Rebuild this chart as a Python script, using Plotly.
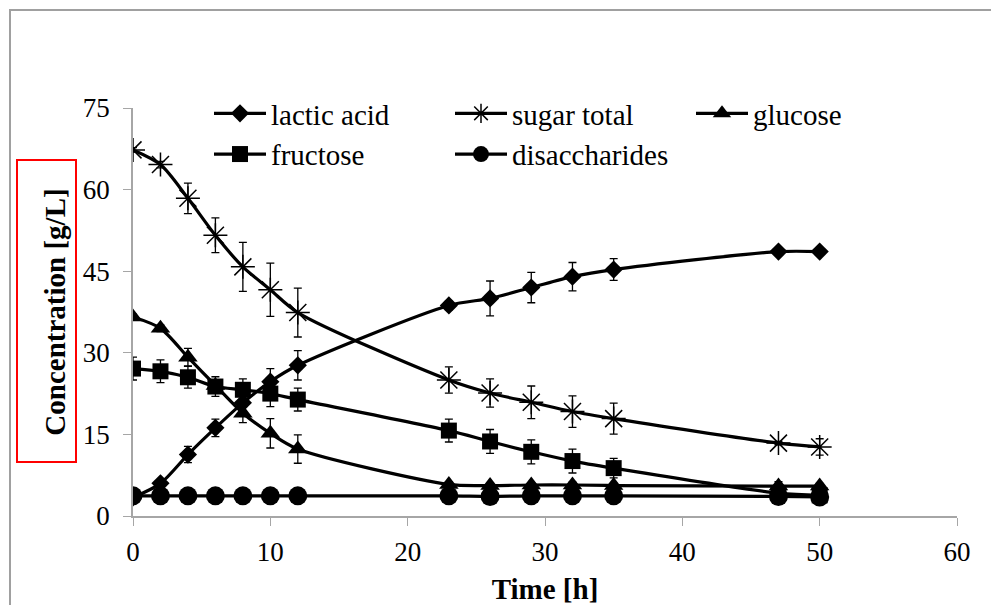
import plotly.graph_objects as go

time_h = [0, 2, 4, 6, 8, 10, 12, 23, 26, 29, 32, 35, 47, 50]

lactic_acid = [3.4, 6.0, 11.3, 16.2, 20.8, 24.7, 27.7, 38.7, 40.0, 42.0, 44.0, 45.3, 48.6, 48.6]
lactic_acid_err = [0.3, 0.5, 1.5, 1.6, 1.5, 2.4, 2.7, 0.8, 3.2, 2.8, 2.6, 2.0, 0.4, 0.5]

sugar_total = [67.3, 64.6, 58.4, 51.6, 45.8, 41.6, 37.4, 25.0, 22.6, 20.9, 19.2, 17.9, 13.4, 12.7]
sugar_total_err = [0.4, 0.6, 2.8, 3.2, 4.5, 4.9, 4.5, 2.4, 2.6, 3.0, 2.9, 2.85, 0.3, 1.5]

glucose = [36.6, 34.5, 29.2, 24.0, 18.9, 15.2, 12.3, 5.8, 5.6, 5.7, 5.7, 5.6, 5.5, 5.5]
glucose_err = [0.5, 0.6, 1.6, 1.0, 1.75, 2.7, 2.6, 0.5, 0.4, 0.4, 0.5, 0.4, 0.8, 0.5]

fructose = [27.1, 26.6, 25.5, 23.8, 23.2, 22.5, 21.4, 15.7, 13.7, 11.8, 10.1, 8.8, 4.2, 3.8]
fructose_err = [2.1, 2.1, 2.0, 1.8, 2.0, 2.4, 2.1, 2.1, 2.2, 2.2, 2.2, 1.8, 0.5, 1.6]

disaccharides = [3.7, 3.7, 3.7, 3.7, 3.7, 3.7, 3.7, 3.7, 3.6, 3.7, 3.7, 3.7, 3.6, 3.5]
disaccharides_err = [0.2, 0.2, 0.2, 0.2, 0.2, 0.2, 0.2, 0.2, 0.2, 0.2, 0.2, 0.2, 0.2, 0.3]

x_ticks = [0, 10, 20, 30, 40, 50, 60]
y_ticks = [0, 15, 30, 45, 60, 75]

FONT = "Liberation Serif"

series = [
    ("lactic acid", lactic_acid, lactic_acid_err, dict(symbol="diamond", size=14, color="black")),
    ("sugar total", sugar_total, sugar_total_err, dict(symbol="asterisk-open", size=20, color="black",
                                                       line=dict(color="black", width=1.5))),
    ("glucose", glucose, glucose_err, dict(symbol="triangle-up", size=17, color="black")),
    ("fructose", fructose, fructose_err, dict(symbol="square", size=16, color="black")),
    ("disaccharides", disaccharides, disaccharides_err, dict(symbol="circle", size=19, color="black")),
]

fig = go.Figure()
for name, vals, errs, mk in series:
    fig.add_trace(go.Scatter(
        x=time_h, y=vals, name=name, mode="lines+markers",
        line=dict(color="black", width=3.2, shape="spline", smoothing=0.8),
        marker=mk,
        error_y=dict(type="data", array=errs, visible=True, color="black", thickness=1.3, width=4),
    ))

W, H = 991, 605
L, T = 133, 108
pw, ph = 824, 408
R, B = W - L - pw, H - T - ph

def px2x(px):
    return (px - L) / pw

def py2y(py):
    return (T + ph - py) / ph

fig.update_layout(
    width=W, height=H,
    margin=dict(l=L, r=R, t=T, b=B, autoexpand=False),
    paper_bgcolor="white", plot_bgcolor="white",
    font=dict(family=FONT, size=27, color="black"),
    showlegend=True,
    legend=dict(
        orientation="h", x=px2x(209), y=py2y(88), xanchor="left", yanchor="top",
        entrywidth=174, entrywidthmode="pixels",
        font=dict(family=FONT, size=29, color="black"),
        bgcolor="rgba(0,0,0,0)", tracegroupgap=0, itemwidth=52,
    ),
    xaxis=dict(
        range=[0, 60], tickvals=x_ticks, ticks="outside", ticklen=8, tickcolor="#a6a6a6",
        showline=True, linecolor="#a6a6a6", linewidth=1.5, showgrid=False, zeroline=False,
        tickfont=dict(family=FONT, size=27), ticklabelstandoff=3, automargin=False,
        title=dict(text="<b>Time [h]</b>", font=dict(family=FONT, size=29), standoff=14),
    ),
    yaxis=dict(
        range=[0, 75], tickvals=y_ticks, ticks="outside", ticklen=8, tickcolor="#a6a6a6",
        showline=True, linecolor="#a6a6a6", linewidth=1.5, showgrid=False, zeroline=False,
        tickfont=dict(family=FONT, size=27), ticklabelstandoff=8, automargin=False,
        title=dict(text="<b>Concentration [g/L]</b>", font=dict(family=FONT, size=29), standoff=9),
    ),
    shapes=[
        dict(type="rect", xref="paper", yref="paper",
             x0=px2x(10), x1=px2x(1010), y0=py2y(640), y1=py2y(10),
             line=dict(color="#a0a0a0", width=2), layer="below"),
        dict(type="rect", xref="paper", yref="paper",
             x0=px2x(17), x1=px2x(76), y0=py2y(462), y1=py2y(160),
             line=dict(color="#ff0000", width=2), layer="above"),
    ],
)

fig.write_html(
    "out.html",
    config={"displayModeBar": False},
    post_script="document.body.style.margin='0';document.body.style.overflow='hidden';",
)
